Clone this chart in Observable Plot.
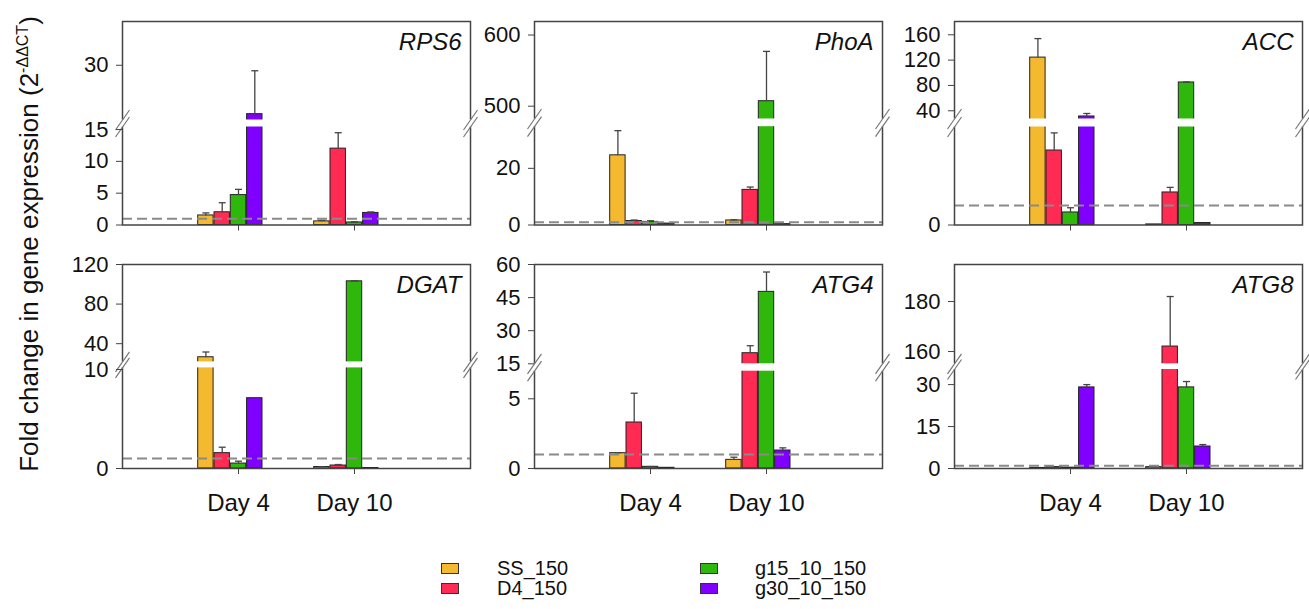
<!DOCTYPE html>
<html>
<head>
<meta charset="utf-8">
<script src="https://cdn.jsdelivr.net/npm/d3@7"></script>
<script src="https://cdn.jsdelivr.net/npm/@observablehq/plot@0.6"></script>
<style>
html, body { margin: 0; padding: 0; background: #fff; }
#root { position: relative; width: 1309px; height: 609px; overflow: hidden; font-family: "Liberation Sans", Arial, sans-serif; color: #111; }
#root svg { position: absolute; }
.ytitle { position: absolute; white-space: nowrap; font-size: 26px; line-height: 26px; transform: translate(-50%, -50%) rotate(-90deg); }
.ytitle sup { font-size: 16px; }
.sw { position: absolute; width: 16px; height: 9px; border: 1px solid #333; }
.lab { position: absolute; font-size: 20px; line-height: 20px; transform: translateY(-50%); }
</style>
</head>
<body>
<div id="root"></div>
<script>
// ---------- data ----------
const days = ["Day 4", "Day 10"];
const series = ["SS_150", "D4_150", "g15_10_150", "g30_10_150"];
const colors = ["#F4B92F", "#FF2B53", "#2FB70C", "#7F00FF"];
const genes = ["RPS6", "PhoA", "ACC", "DGAT", "ATG4", "ATG8"];

// mean fold change, rows = [Day 4, Day 10], columns = series
const RPS6_mean = [[1.5, 2.0, 4.7, 16.6], [0.57, 12.0, 0.4, 1.9]];
const RPS6_se   = [[0.4, 1.5, 0.9, 11.9], [0.15, 2.5, 0.1, 0.15]];
const PhoA_mean = [[24.6, 1.4, 1.1, 0.5], [1.6, 12.4, 507, 0.3]];
const PhoA_se   = [[8.7, 0.35, 0.4, 0], [0.25, 1.0, 70, 0]];
const ACC_mean  = [[124, 3.8, 0.64, 31], [0.03, 1.66, 84.7, 0.1]];
const ACC_se    = [[30, 0.9, 0.24, 4.7], [0, 0.26, 0.8, 0]];
const DGAT_mean = [[26.3, 1.55, 0.5, 7.1], [0.15, 0.3, 103, 0.05]];
const DGAT_se   = [[5.3, 0.6, 0.24, 0], [0.03, 0.1, 0.5, 0]];
const ATG4_mean = [[1.1, 3.3, 0.12, 0.05], [0.62, 19.8, 47.6, 1.29]];
const ATG4_se   = [[0.03, 2.1, 0.02, 0], [0.19, 3.4, 9.0, 0.19]];
const ATG8_mean = [[0.2, 0.5, 0.3, 29.0], [0.5, 162, 29.0, 7.86]];
const ATG8_se   = [[0, 0, 0, 1.0], [0, 20, 2.1, 0.7]];

// broken y axes: lower and upper value segments, tick labels
const RPS6_axis = {lower: [0, 15.4], upper: [15, 42],   ticks: [0, 5, 10, 15, 30]};
const PhoA_axis = {lower: [0, 34.7], upper: [482, 619], ticks: [0, 20, 500, 600]};
const ACC_axis  = {lower: [0, 5],    upper: [27, 181],  ticks: [0, 40, 80, 120, 160]};
const DGAT_axis = {lower: [0, 10.16], upper: [21.6, 120], ticks: [0, 10, 40, 80, 120]};
const ATG4_axis = {lower: [0, 6.98], upper: [15, 60],   ticks: [0, 5, 15, 30, 45, 60]};
const ATG8_axis = {lower: [0, 35.4], upper: [155.1, 194.8], ticks: [0, 15, 30, 160, 180]};

const reference = 1; // dashed line

// ---------- layout ----------
const M = {l: 70, r: 12, t: 12, b: 48};
const layout = [
  {left: 122,   top: 21,    W: 348, H: 203.5, vL: 98,    vU: 105,   days: false},
  {left: 533.5, top: 21,    W: 348, H: 203.5, vL: 98.3,  vU: 106,   days: false},
  {left: 954,   top: 21,    W: 348, H: 203.5, vL: 98,    vU: 106,   days: false},
  {left: 122,   top: 263.5, W: 348, H: 204,   vL: 100.6, vU: 106.6, days: true},
  {left: 533.5, top: 263.5, W: 348, H: 204,   vL: 97.3,  vU: 104.7, days: true},
  {left: 954,   top: 263.5, W: 348, H: 204,   vL: 99,    vU: 104.7, days: true}
];
const means = [RPS6_mean, PhoA_mean, ACC_mean, DGAT_mean, ATG4_mean, ATG8_mean];
const ses = [RPS6_se, PhoA_se, ACC_se, DGAT_se, ATG4_se, ATG8_se];
const axes = [RPS6_axis, PhoA_axis, ACC_axis, DGAT_axis, ATG4_axis, ATG8_axis];

const root = document.getElementById("root");

function panel(gene, mean, se, axis, box) {
  const {W, H, vL, vU} = box;
  const [l0, l1] = axis.lower, [u0, u1] = axis.upper;
  // piecewise (broken) position
  const toV = v => v <= l1 ? (v - l0) / (l1 - l0) * vL
    : v >= u0 ? vU + (v - u0) / (u1 - u0) * (H - vU)
    : vL + (v - l1) / (u0 - l1) * (vU - vL);
  const ux = 3 / W; // x units per pixel
  const rows = [];
  days.forEach((d, di) => series.forEach((s, si) => {
    const cx = di + 1 + (si - 2) * 16.3 * ux;
    rows.push({
      day: d, series: s, cx,
      x1: cx - 7.7 * ux, x2: cx + 7.7 * ux,
      y0: 0, v: toV(mean[di][si]),
      top: toV(mean[di][si] + se[di][si]), se: se[di][si],
      c1: cx - 3.5 * ux, c2: cx + 3.5 * ux
    });
  }));
  const errs = rows.filter(r => r.se > 0);
  const tickV = axis.ticks.map(toV);
  const labelMap = new Map(tickV.map((v, i) => [v, String(axis.ticks[i])]));
  const band = [{x1: -3 * ux, x2: 3 + 3 * ux, y1: vL, y2: vU}];
  const brk = [];
  for (const x0 of [0, 3]) for (const v of [vL, vU]) brk.push({x1: x0 - 7 * ux, y1: v - 10, x2: x0 + 7 * ux, y2: v + 10});

  const svg = Plot.plot({
    width: M.l + W + M.r,
    height: M.t + H + M.b,
    marginLeft: M.l, marginRight: M.r, marginTop: M.t, marginBottom: M.b,
    style: {fontFamily: "Liberation Sans, Arial, sans-serif", color: "#111", background: "transparent", overflow: "visible"},
    x: {type: "linear", domain: [0, 3], axis: null, label: null},
    y: {type: "linear", domain: [0, H], axis: null, label: null},
    color: {domain: series, range: colors},
    marks: [
      Plot.rect(rows, {x1: "x1", x2: "x2", y1: "y0", y2: "v", fill: "series", stroke: "#222", strokeWidth: 1}),
      Plot.link(errs, {x1: "cx", x2: "cx", y1: "v", y2: "top", stroke: "#444", strokeWidth: 1.3}),
      Plot.link(errs, {x1: "c1", x2: "c2", y1: "top", y2: "top", stroke: "#444", strokeWidth: 1.3}),
      Plot.ruleY([toV(reference)], {stroke: "#8a8a8a", strokeWidth: 2, strokeDasharray: "10,5"}),
      Plot.frame({stroke: "#444", strokeWidth: 1.5}),
      Plot.rect(band, {x1: "x1", x2: "x2", y1: "y1", y2: "y2", fill: "white"}),
      Plot.link(brk, {x1: "x1", y1: "y1", x2: "x2", y2: "y2", stroke: "#777", strokeWidth: 1.2}),
      Plot.axisY({ticks: tickV, tickFormat: d => labelMap.get(d), tickSize: 6, tickPadding: 8, fontSize: 22, stroke: "#444", label: null, anchor: "left"}),
      Plot.axisX({ticks: [1, 2], tickFormat: d => box.days ? days[d - 1] : "", tickSize: 6, tickPadding: 19, fontSize: 24, stroke: "#444", label: null, anchor: "bottom"}),
      Plot.text([gene], {frameAnchor: "top-right", text: d => d, dx: -9, dy: 11, lineAnchor: "top", fontSize: 24, fontStyle: "italic", fill: "#111"})
    ]
  });
  svg.style.left = (box.left - M.l) + "px";
  svg.style.top = (box.top - M.t) + "px";
  root.appendChild(svg);
}

genes.forEach((g, i) => panel(g, means[i], ses[i], axes[i], layout[i]));

// y-axis title
const yt = document.createElement("div");
yt.className = "ytitle";
yt.style.left = "26px";
yt.style.top = "244px";
yt.innerHTML = "Fold change in gene expression (2<sup>-ΔΔCT</sup>)";
root.appendChild(yt);

// legend
const legendPos = [[441, 568, 497], [441, 588, 497], [700, 568, 755], [700, 588, 755]];
series.forEach((s, i) => {
  const [sx, cy, lx] = legendPos[i];
  const sw = document.createElement("div");
  sw.className = "sw";
  sw.style.left = sx + "px";
  sw.style.top = (cy - 5) + "px";
  sw.style.background = colors[i];
  root.appendChild(sw);
  const lab = document.createElement("div");
  lab.className = "lab";
  lab.style.left = lx + "px";
  lab.style.top = cy + "px";
  lab.textContent = s;
  root.appendChild(lab);
});
</script>
</body>
</html>
